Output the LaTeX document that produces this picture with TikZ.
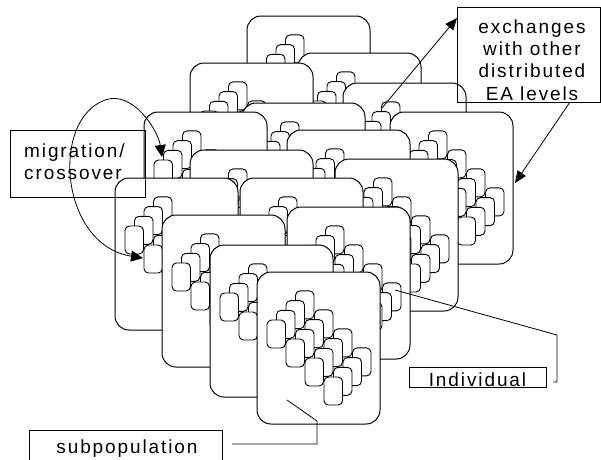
\documentclass[tikz,border=0pt]{standalone}
\usepackage{fontspec}
\setmainfont{Liberation Sans}
\newfontfamily\labfont[LetterSpace=10]{Liberation Sans}
\usetikzlibrary{arrows.meta}
\tikzset{
  popbox/.style={draw=black, fill=white, line width=1pt, rounded corners=14pt},
  indbox/.style={draw=black, fill=white, line width=0.9pt, rounded corners=4.5pt},
  lbl/.style={font=\labfont\fontsize{19}{22.3}\selectfont, inner sep=0pt},
  frame/.style={draw=black, line width=0.9pt, inner sep=0pt},
  conn/.style={draw=black, line width=0.8pt},
  tipend/.style={-{Triangle[length=12pt,width=10pt]}},
  tipboth/.style={{Triangle[length=12pt,width=11pt]}-{Triangle[length=12pt,width=11pt]}},
}
\newcommand\subpopbox[2]{%
  \draw[popbox] (#1,#2) rectangle ++(123,152);
  \foreach \jj in {0,1,2,3}{\foreach \ii in {3,2,1,0}{
    \draw[indbox] ({#1+10+9.5*\ii+19*\jj},{#2+48-9.7*\ii+19*\jj}) rectangle ++(18.5,28);
  }}%
}
\begin{document}
\begin{tikzpicture}[x=1pt,y=-1pt]
\useasboundingbox (0,0) rectangle (601,459);
% back row
\subpopbox{247}{16}\subpopbox{298}{53}\subpopbox{343}{83}\subpopbox{390}{112}
\subpopbox{190}{63}\subpopbox{242}{103}\subpopbox{287}{130}\subpopbox{335}{159}
\subpopbox{144}{112}\subpopbox{190}{150}\subpopbox{240}{178}\subpopbox{287}{207}
\subpopbox{115}{178}\subpopbox{162}{215}\subpopbox{210}{245}\subpopbox{257}{272}
% migration label
\node[frame, minimum width=135pt, minimum height=67pt, anchor=north west] (migbox) at (10,130) {};
\node[lbl, anchor=base west] (mig1) at (24,157) {migration/};
\node[lbl, anchor=base west] (mig2) at (24,179) {crossover};
% exchanges label
\node[frame, minimum width=143pt, minimum height=95pt, anchor=north west] (exbox) at (457,7) {};
\node[lbl, anchor=base] (ex1) at (532,33) {exchanges};
\node[lbl, anchor=base] (ex2) at (532,55.3) {with other};
\node[lbl, anchor=base] (ex3) at (532,77.6) {distributed};
\node[lbl, anchor=base] (ex4) at (532,100) {EA levels};
% individual label
\node[frame, minimum width=137pt, minimum height=20pt, anchor=north west] (indlab) at (409,367) {};
\node[lbl, anchor=base] (indtxt) at (477.5,386.5) {Individual};
% subpopulation label
\coordinate (sbl) at (29,461);
\coordinate (stl) at (29,430);
\coordinate (str) at (222,430);
\coordinate (sbr) at (222,461);
\draw[frame] (sbl) -- (stl) -- (str) -- (sbr);
\node[lbl, anchor=base] (subtxt) at (127,453) {subpopulation};
% connectors
\coordinate (migA) at (143,258);
\coordinate (migB) at (162,157);
\draw[conn, tipboth] (migA) .. controls (60,245) and (50,120) .. (105,100)
   .. controls (132.5,90) and (158,130) .. (migB);
\coordinate (exsrc) at (382,108);
\coordinate (extip) at (457,18);
\draw[conn, tipend] (exsrc) -- (extip);
\coordinate (exout) at (570,102);
\coordinate (jtip) at (515,183);
\draw[conn, tipend] (exout) -- (jtip);
\coordinate (indsrc) at (395,290);
\coordinate (indb1) at (557,335);
\coordinate (indb2) at (557,382);
\coordinate (indb3) at (553,382);
\draw[conn] (indsrc) -- (indb1) -- (indb2) -- (indb3);
\coordinate (subsrc) at (287,400);
\coordinate (subb1) at (317,421);
\coordinate (subb2) at (317,444);
\coordinate (subb3) at (232,444);
\draw[conn] (subsrc) -- (subb1) -- (subb2) -- (subb3);
\end{tikzpicture}
\end{document}
